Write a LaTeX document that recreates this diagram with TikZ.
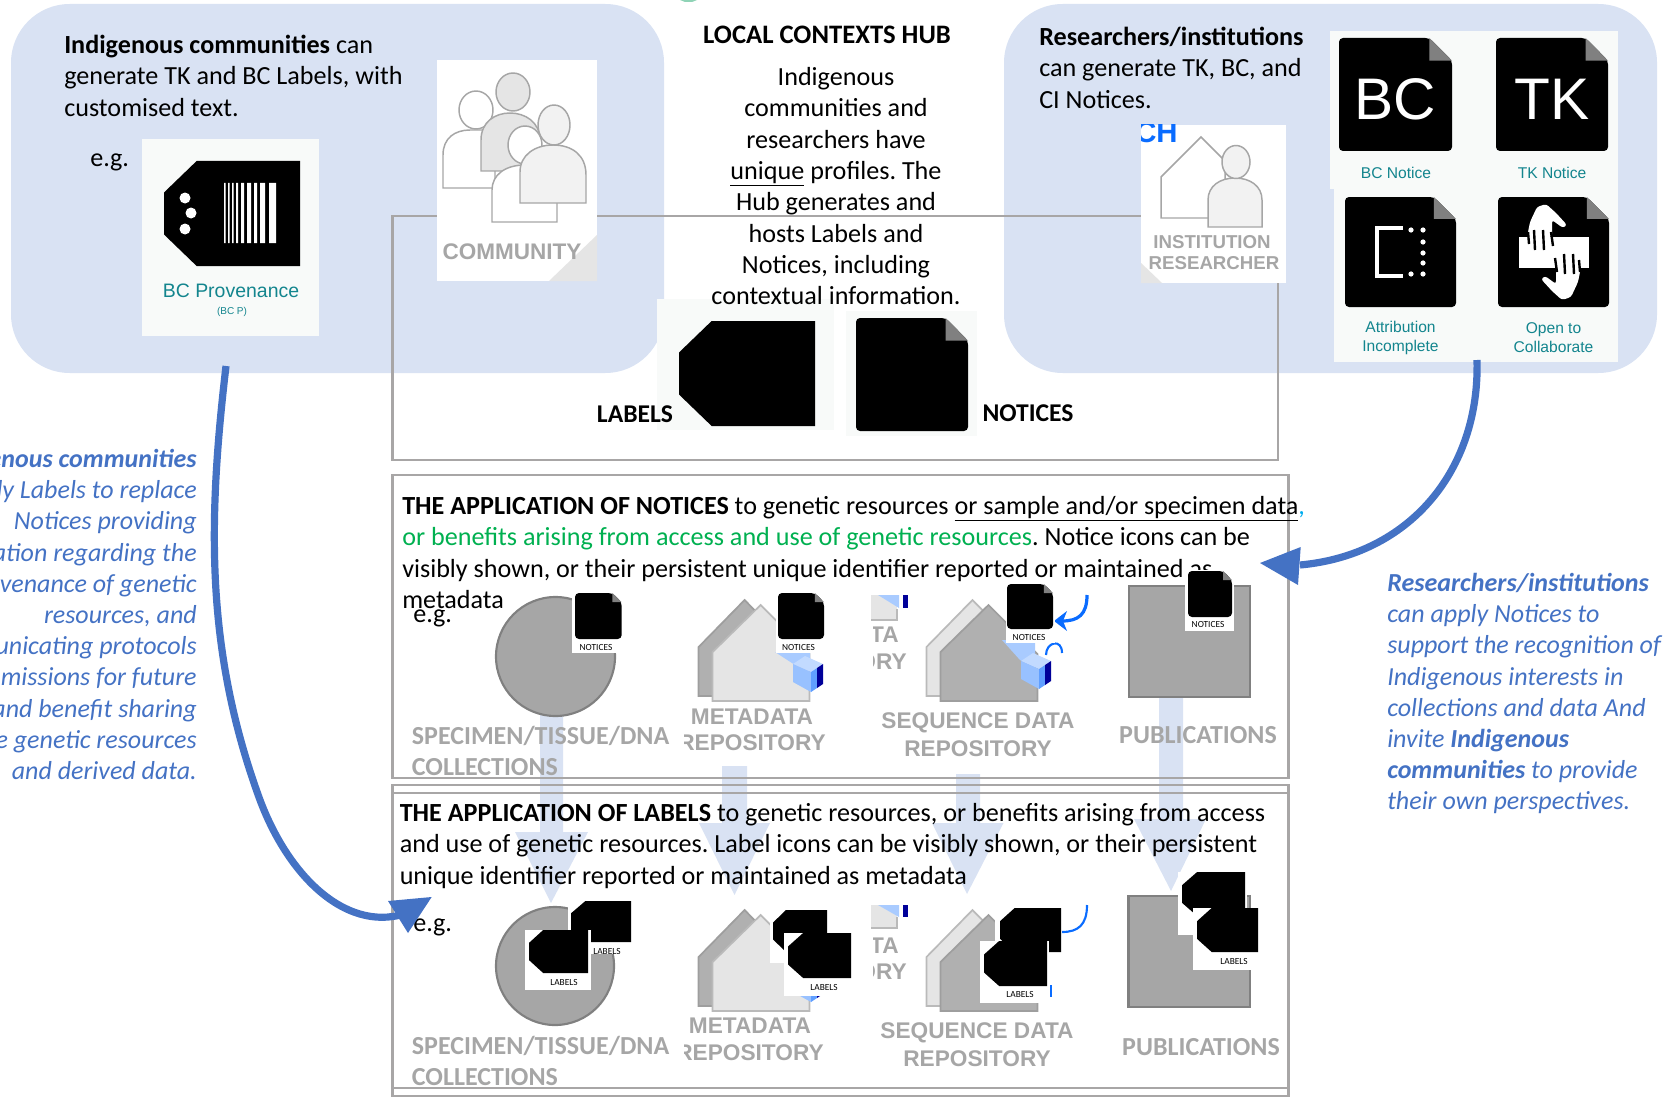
\documentclass[tikz,border=0pt]{standalone}
\usepackage{fontspec}
\setmainfont{Carlito}
\newfontfamily\iconfont{Liberation Sans}
\usepackage{tikz}
\usepackage{xcolor}
\frenchspacing

\definecolor{boxblue}{HTML}{D9E2F3}
\definecolor{arrowblue}{HTML}{4472C4}
\definecolor{framegrey}{HTML}{A8A6A6}
\definecolor{wordgrey}{HTML}{A6A6A6}
\definecolor{panelwhite}{HTML}{F8FAF9}
\definecolor{noticeteal}{HTML}{13858E}
\definecolor{hubblue}{HTML}{0A6CFF}

\tikzset{
  bodytext/.style={anchor=north west,inner sep=0pt,align=left,font=\fontsize{19.6}{23.5}\selectfont},
  hubtext/.style={anchor=north,inner sep=0pt,align=center,font=\fontsize{19.6}{23.5}\selectfont},
  bluetext/.style={inner sep=0pt,text=arrowblue,font=\fontsize{19.5}{23.4}\selectfont\itshape},
  greyword/.style={inner sep=0pt,text=wordgrey,font=\fontsize{19.5}{23.5}\selectfont\bfseries},
  greysans/.style={inner sep=0pt,align=center,text=wordgrey,font=\iconfont\fontsize{17}{19.5}\selectfont\bfseries},
  tealtext/.style={inner sep=0pt,align=center,text=noticeteal,font=\iconfont\fontsize{11.7}{14.2}\selectfont},
  tinytext/.style={inner sep=0pt,font=\fontsize{7}{8}\selectfont},
  frameline/.style={draw=framegrey,line width=1.6pt},
  bigarrow/.style={draw=arrowblue,line width=5.4pt},
  lightarrow/.style={fill=boxblue},
  whitepanel/.style={fill=white},
  iconpanel/.style={fill=panelwhite},
  houselight/.style={fill=black!10,draw=black!27,line width=1.3pt},
  housedark/.style={fill=black!31,draw=black!38,line width=1.3pt},
  greyshape/.style={fill=wordgrey,draw=black!50,line width=1.6pt},
  personline/.style={draw=black!35,line width=1.1pt},
  pics/tagicon/.style={code={
    \fill [black] (0.24,0) -- (1,0) -- (1,1) -- (0.24,1) -- (0,0.7) -- (0,0.3) -- cycle ;
  }},
  pics/noticeicon/.style={code={
    \fill [black,rounded corners=3pt] (0.8,0) -- (1,0.2) -- (1,1) -- (0,1) -- (0,0) -- cycle ;
    \fill [black!50] (0.8,0) -- (1,0.2) -- (0.8,0.2) -- cycle ;
  }},
  pics/twohouses/.style 2 args={code={
    \draw [#1] (0,47) -- (46,0) -- (92,47) -- (92,96) -- (0,96) -- cycle ;
    \draw [#2] (14,52) -- (62,5) -- (111,54) -- (111,101) -- (14,101) -- cycle ;
  }},
  pics/lockicon/.style={code={
    \fill [hubblue!25] (0,10) -- (12,2) -- (30,10) -- (18,18) -- cycle ;
    \fill [hubblue!42] (0,10) -- (18,18) -- (18,38) -- (0,28) -- cycle ;
    \fill [hubblue!65] (18,18) -- (24,14) -- (24,34) -- (18,38) -- cycle ;
    \fill [blue!60!black] (24,14) -- (30,10) -- (30,30) -- (24,34) -- cycle ;
  }},
  pics/handicon/.style={code={
    \fill [white,rounded corners=2pt] (-27,-15) -- (-24,-30) -- (-17,-45) -- (-8,-48) -- (2,-39) -- (13,-27) -- (9,-24) -- (-2,-32) -- (-2,-15) -- cycle ;
    \draw [black,line width=1.8pt] (-26,-20) -- (-25,-8) (-20,-22) -- (-19,-2) (-11,-22) -- (-10,-2) (-3,-20) -- (-1,-6) ;
  }},
}

\begin{document}
\begin{tikzpicture}[x=0.75pt,y=0.75pt,yscale=-1,xscale=1]
\useasboundingbox (0,0) rectangle (1666,1102);

%Shape: Ellipse
\fill [color={rgb, 255:red, 143; green, 211; blue, 182 }] (680,0) -- (697,0) -- (692,2) -- (685,2) -- cycle ;
%Shape: Rounded Rect
\fill [boxblue,rounded corners=44pt] (11,4) rectangle (664,373);
%Shape: Rounded Rect
\fill [boxblue,rounded corners=44pt] (1004,4) rectangle (1657,373);
%Shape: Rectangle
\draw [frameline] (392.5,216) rectangle (1278,460);

%Shape: Rectangle
\fill [iconpanel] (142,139) rectangle (319,336);
\pic [xscale=136,yscale=-105] at (164,161) {tagicon};
\fill [white] (185,198) circle [radius=5.5] (191,213) circle [radius=5.5] (185,229) circle [radius=5.5];
\fill [white] (224,183) rectangle (225.5,243) (228,183) rectangle (229.5,243) (232,183) rectangle (233.5,243) (236,183) rectangle (238,243) (241,183) rectangle (244,243) (247,183) rectangle (251,243) (254,183) rectangle (257,243) (260,183) rectangle (265,243) (269,183) rectangle (276,243);
% Text Node
\draw (231,291) node (bcprovenance) [tealtext,font=\iconfont\fontsize{14.6}{16}\selectfont] {BC Provenance};
% Text Node
\draw (232,312) node (bcprovenanceshort) [tealtext,font=\iconfont\fontsize{7.5}{9}\selectfont] {(BC P)};

%Shape: Rectangle
\fill [whitepanel] (437,60) rectangle (597,281);
\fill [black!10] (549,281) -- (597,235) -- (597,281) -- cycle ;
%Shape: Persons
\draw [personline,fill=white] (443,188) -- (443,155) .. controls (443,138) and (455,130) .. (470,130) -- (495,130) -- (495,188) -- cycle ;
\draw [personline,fill=white] (476,110) ellipse [x radius=17,y radius=19];
\draw [personline,fill=black!10] (481,171) -- (481,140) .. controls (481,122) and (495,113) .. (510,113) .. controls (525,113) and (540,122) .. (540,140) -- (540,171) -- cycle ;
\draw [personline,fill=black!10] (513,92) ellipse [x radius=17,y radius=19];
\draw [personline,fill=white] (492,222) -- (492,190) .. controls (492,175) and (505,165) .. (525,165) .. controls (545,165) and (557,175) .. (557,190) -- (557,222) -- cycle ;
\draw [personline,fill=white] (525,145) ellipse [x radius=17,y radius=19];
\draw [personline,fill=black!5] (520,203) -- (520,172) .. controls (520,155) and (535,145) .. (553,145) .. controls (572,145) and (586,155) .. (586,175) -- (586,203) -- cycle ;
\draw [personline,fill=black!5] (554,125) ellipse [x radius=16,y radius=20];
% Text Node
\draw (512,252) node (communityword) [greysans,font=\iconfont\fontsize{16.9}{20}\selectfont\bfseries] {COMMUNITY};

%Shape: Rectangle
\fill [whitepanel] (1141,125) rectangle (1286,283);
\fill [black!10] (1141,263) -- (1162,283) -- (1141,283) -- cycle ;
\begin{scope}
\clip (1141,125) rectangle (1180,146);
% Text Node
\draw (1135,143) node (hubpiece) [anchor=base west,inner sep=0pt,text=hubblue,font=\iconfont\fontsize{22}{24}\selectfont\bfseries] {CH};
\end{scope}
%Shape: House and person
\draw [personline,fill=white] (1161,218) -- (1161,177) -- (1201,137) -- (1225,161) -- (1225,218) -- cycle ;
\draw [personline,fill=black!5] (1208,227) -- (1208,200) .. controls (1208,186) and (1220,178) .. (1235,178) .. controls (1250,178) and (1262,186) .. (1262,200) -- (1262,227) -- cycle ;
\draw [personline,fill=black!5] (1236,162) ellipse [x radius=14,y radius=16.5];
% Text Node
\draw (1212,242) node (institutionword) [greysans,font=\iconfont\fontsize{14}{16}\selectfont\bfseries] {INSTITUTION};
% Text Node
\draw (1214,263) node (researcherword) [greysans,font=\iconfont\fontsize{14}{16}\selectfont\bfseries] {RESEARCHER};

%Shape: Rectangle
\fill [iconpanel] (1330,31) rectangle (1618,189);
\fill [iconpanel] (1334,189) rectangle (1618,362);
\pic [xscale=113,yscale=-113] at (1339,38) {noticeicon};
\pic [xscale=112,yscale=-113] at (1496,38) {noticeicon};
\pic [xscale=111,yscale=-110] at (1345,197) {noticeicon};
\pic [xscale=111,yscale=-110] at (1498,197) {noticeicon};
% Text Node
\draw (1395,99.5) node (bcletters) [inner sep=0pt,text=white,font=\iconfont\fontsize{44}{46}\selectfont] {BC};
% Text Node
\draw (1552,99.5) node (tkletters) [inner sep=0pt,text=white,font=\iconfont\fontsize{44}{46}\selectfont] {TK};
\draw [white,line width=3pt] (1403,228) -- (1377,228) -- (1377,276) -- (1403,276);
\fill [white] (1411,230) circle [radius=2.6] (1423,230) circle [radius=2.6] (1423,242) circle [radius=2.6] (1423,253) circle [radius=2.6] (1423,263) circle [radius=2.6] (1411,274) circle [radius=2.6] (1423,274) circle [radius=2.6];
\fill [white] (1519,237) rectangle (1589,268);
\pic [yscale=-1] at (1554,252) {handicon};
\pic [rotate=180,yscale=-1] at (1554,252) {handicon};
% Text Node
\draw (1396,173) node (bcnotice) [tealtext] {BC Notice};
% Text Node
\draw (1552,173) node (tknotice) [tealtext] {TK Notice};
% Text Node
\draw (1400.5,338) node (attribution) [tealtext] {Attribution\\Incomplete};
% Text Node
\draw (1553.5,338) node (collaborate) [tealtext] {Open to\\Collaborate};

%Shape: Rectangle
\fill [iconpanel] (657,299) rectangle (833.5,430);
\fill [iconpanel] (846,311) rectangle (977,436);
\pic [xscale=136,yscale=-105] at (679,321) {tagicon};
\pic [xscale=112,yscale=-113] at (856,318) {noticeicon};
% Text Node
\draw (635,414) node (labelsword) [inner sep=0pt,font=\fontsize{19.2}{23.5}\selectfont\bfseries] {LABELS};
% Text Node
\draw (1028,413) node (noticesword) [inner sep=0pt,font=\fontsize{19.2}{23.5}\selectfont\bfseries] {NOTICES};

% Text Node
\draw (64,35) node (indigenoustext) [bodytext] {\textbf{Indigenous communities} can\\generate TK and BC Labels, with\\customised text.};
% Text Node
\draw (90,154) node (egone) [bodytext] {e.g.};
% Text Node
\draw (827,26) node (hubtitle) [inner sep=0pt,anchor=north,font=\fontsize{20}{23.5}\selectfont\bfseries] {LOCAL CONTEXTS HUB};
% Text Node
\draw (836,67) node (hubtext) [hubtext] {Indigenous\\communities and\\researchers have\\\underline{unique} profiles. The\\Hub generates and\\hosts Labels and\\Notices, including\\contextual information.};
% Text Node
\draw (1039,27) node (researchertext) [bodytext] {\textbf{Researchers/institutions}\\can generate TK, BC, and\\CI Notices.};

%Block Arrows
\fill [lightarrow] (540,715) -- (563,715) -- (563,832) -- (588,832) -- (551,903) -- (515,832) -- (540,832) -- cycle ;
\fill [lightarrow] (722,766) -- (747,766) -- (747,823) -- (770,823) -- (734.5,895) -- (699,823) -- (722,823) -- cycle ;
\fill [lightarrow] (956,774) -- (980,774) -- (980,823) -- (1003.5,823) -- (967,894) -- (932,823) -- (956,823) -- cycle ;
\fill [lightarrow] (1159,697) -- (1183,697) -- (1183,819) -- (1206,819) -- (1171,891) -- (1134,819) -- (1159,819) -- cycle ;

%Shape: Rectangle
\draw [frameline] (392.5,475) rectangle (1288.5,778);
\draw [frameline] (392.5,785) rectangle (1288.5,1096);
\draw [frameline] (392.5,793) rectangle (1288.5,1088);

% Text Node
\draw (402,496) node (noticetext) [bodytext] {\textbf{THE APPLICATION OF NOTICES} to genetic resources \underline{or sample and/or specimen data}{\color{cyan},}\\{\color[HTML]{00B050}or benefits arising from access and use of genetic resources}. Notice icons can be\\visibly shown, or their persistent unique identifier reported or maintained as\\metadata};
% Text Node
\draw (413,610) node (egtwo) [bodytext] {e.g.};
% Text Node
\draw (399.5,803) node (labeltext) [bodytext] {\textbf{THE APPLICATION OF LABELS} to genetic resources, or benefits arising from access\\and use of genetic resources. Label icons can be visibly shown, or their persistent\\unique identifier reported or maintained as metadata};
% Text Node
\draw (413,919) node (egthree) [bodytext] {e.g.};

%Notices row
\draw [greyshape] (555.5,656.5) circle [radius=59.5];
\pic [yscale=-1] at (698.6,600) {twohouses={housedark}{houselight}};
\fill [hubblue!35] (775,652) -- (810,652) -- (810,668) -- (795,665) -- cycle ;
\pic [yscale=-1] at (793,654) {lockicon};
\fill [black!10] (871,595) -- (897,595) -- (897,620) -- (871,620) -- cycle ;
\draw [black!27,line width=1.3pt] (871,620) -- (897,620) -- (897,609);
\fill [hubblue!35] (878,595) -- (899,595) -- (899,608) -- cycle ;
\fill [blue!60!black] (903,595) -- (908,595) -- (908,608) -- (903,608) -- cycle ;
\pic [yscale=-1] at (926.5,600) {twohouses={houselight}{housedark}};
\fill [hubblue!35] (1002,640) -- (1035,640) -- (1035,668) -- (1020,660) -- cycle ;
\pic [yscale=-1] at (1021,651) {lockicon};
\draw [hubblue,line width=1.6pt] (1046,655) .. controls (1046,642) and (1062,638) .. (1062,653) ;
\draw [hubblue,line width=2.4pt] (1087,595) .. controls (1087,615) and (1078,621) .. (1062,621) ;
\fill [hubblue] (1054,621) -- (1067,611) -- (1063,621) -- (1067,631) -- cycle ;
\draw [greyshape,line width=2.2pt] (1129,586) rectangle (1250,697);

%Shape: Rectangle
\fill [whitepanel] (572,590) rectangle (622,653);
\pic [xscale=46.7,yscale=-46] at (575,593) {noticeicon};
% Text Node
\draw (596,647) node (noticesmallone) [tinytext] {NOTICES};
\fill [whitepanel] (776,590) rectangle (825,653);
\pic [xscale=46,yscale=-46] at (778,593) {noticeicon};
% Text Node
\draw (798.5,647) node (noticesmalltwo) [tinytext] {NOTICES};
\fill [whitepanel] (1006,581) rectangle (1055,643);
\pic [xscale=46,yscale=-45] at (1007,584) {noticeicon};
% Text Node
\draw (1029,637) node (noticesmallthree) [tinytext] {NOTICES};
\fill [whitepanel] (1185,570) rectangle (1234,631);
\pic [xscale=44,yscale=-46] at (1188,571) {noticeicon};
% Text Node
\draw (1208,624) node (noticesmallfour) [tinytext] {NOTICES};

% Text Node
\draw (411.6,736) node (specimenone) [greyword,anchor=west] {SPECIMEN/TISSUE/DNA};
% Text Node
\draw (411.6,767) node (collectionsone) [greyword,anchor=west] {COLLECTIONS};
% Text Node
\draw (752,717) node (metadataone) [greysans] {METADATA};
\begin{scope}
\clip (684,725) rectangle (830,762);
% Text Node
\draw (752,743) node (repositoryone) [greysans] {REPOSITORY};
\end{scope}
\begin{scope}
\clip (873,620) rectangle (915,680);
% Text Node
\draw (899,635) node (tapiece) [greysans,anchor=east] {TA};
% Text Node
\draw (907,662) node (orypiece) [greysans,anchor=east] {ORY};
\end{scope}
% Text Node
\draw (978,723) node (sequenceone) [greysans] {SEQUENCE DATA};
% Text Node
\draw (978,749) node (repositorytwo) [greysans] {REPOSITORY};
% Text Node
\draw (1198,735) node (publicationsone) [greyword] {PUBLICATIONS};

%Labels row
\draw [greyshape] (555,966) circle [radius=59];
\pic [yscale=-1] at (698.6,910) {twohouses={housedark}{houselight}};
\pic [yscale=-1] at (793,964) {lockicon};
\fill [black!10] (871,905) -- (897,905) -- (897,928) -- (871,928) -- cycle ;
\draw [black!27,line width=1.3pt] (871,928) -- (897,928) -- (897,917);
\fill [hubblue!35] (878,905) -- (899,905) -- (899,917) -- cycle ;
\fill [blue!60!black] (903,905) -- (908,905) -- (908,917) -- (903,917) -- cycle ;
\pic [yscale=-1] at (926.5,910) {twohouses={houselight}{housedark}};
\draw [hubblue,line width=1.6pt] (1087,905) .. controls (1087,925) and (1078,932) .. (1062,932) ;
\fill [hubblue] (1050,985) rectangle (1052,997);
\draw [greyshape,line width=2.2pt] (1128.5,896) rectangle (1250,1007);

%Shape: Rectangle
\fill [whitepanel] (568,901) rectangle (631,954);
\pic [xscale=60,yscale=-41] at (571,901) {tagicon};
% Text Node
\draw (607,951) node (labelsmallone) [tinytext] {LABELS};
\fill [whitepanel] (525,930) rectangle (591,990);
\pic [xscale=59,yscale=-43] at (529,930) {tagicon};
% Text Node
\draw (564,982) node (labelsmalltwo) [tinytext] {LABELS};
\fill [whitepanel] (770,910) rectangle (828,963);
\pic [xscale=54,yscale=-42] at (773,910) {tagicon};
\fill [whitepanel] (784,933) rectangle (854,996);
\pic [xscale=63,yscale=-45] at (788,933) {tagicon};
% Text Node
\draw (824,987) node (labelsmallthree) [tinytext] {LABELS};
\fill [whitepanel] (995,908) rectangle (1062,965);
\pic [xscale=61,yscale=-44] at (1000,908) {tagicon};
\fill [whitepanel] (980,941) rectangle (1049,1003);
\pic [xscale=63,yscale=-45] at (984,941) {tagicon};
% Text Node
\draw (1020,994) node (labelsmallfour) [tinytext] {LABELS};
\fill [whitepanel] (1178,872) rectangle (1247,935);
\pic [xscale=63,yscale=-44] at (1182,872) {tagicon};
\fill [whitepanel] (1193,908) rectangle (1259,970);
\pic [xscale=61,yscale=-44] at (1197,908) {tagicon};
% Text Node
\draw (1234,961) node (labelsmallfive) [tinytext] {LABELS};

% Text Node
\draw (411.6,1046) node (specimentwo) [greyword,anchor=west] {SPECIMEN/TISSUE/DNA};
% Text Node
\draw (411.6,1077) node (collectionstwo) [greyword,anchor=west] {COLLECTIONS};
% Text Node
\draw (750,1026) node (metadatatwo) [greysans] {METADATA};
\begin{scope}
\clip (684,1035) rectangle (830,1072);
% Text Node
\draw (750,1053) node (repositorythree) [greysans] {REPOSITORY};
\end{scope}
\begin{scope}
\clip (873,930) rectangle (915,990);
% Text Node
\draw (899,946) node (tapiecetwo) [greysans,anchor=east] {TA};
% Text Node
\draw (907,972) node (orypiecetwo) [greysans,anchor=east] {ORY};
\end{scope}
% Text Node
\draw (977,1033) node (sequencetwo) [greysans] {SEQUENCE DATA};
% Text Node
\draw (977,1059) node (repositoryfour) [greysans] {REPOSITORY};
% Text Node
\draw (1201,1047) node (publicationstwo) [greyword] {PUBLICATIONS};

% Text Node
\draw (197,449) node (leftnote) [bluetext,anchor=north east,align=right] {\textbf{enous communities}\\ly Labels to replace\\Notices providing\\ation regarding the\\venance of genetic\\resources, and\\unicating protocols\\missions for future\\and benefit sharing\\e genetic resources\\and derived data.};
% Text Node
\draw (1387,573) node (rightnote) [bluetext,anchor=north west,align=left] {\textbf{Researchers/institutions}\\can apply Notices to\\support the recognition of\\Indigenous interests in\\collections and data And\\invite \textbf{Indigenous}\\\textbf{communities} to provide\\their own perspectives.};

%Curve Lines
\coordinate (leftstart) at (226,366);
\coordinate (leftend) at (410,912);
\coordinate (rightstart) at (1477,360);
\coordinate (rightend) at (1300,565);
\draw [bigarrow] (leftstart) .. controls (208,520) and (205,650) .. (260,800) .. controls (290,880) and (350,935) .. (leftend) ;
\fill [arrowblue] (431.7,897) -- (388,901) -- (408,933) -- cycle ;
\draw [bigarrow] (rightstart) .. controls (1480,470) and (1410,555) .. (rightend) ;
\fill [arrowblue] (1260,563) -- (1300.7,547) -- (1298,585) -- cycle ;

\end{tikzpicture}
\end{document}
